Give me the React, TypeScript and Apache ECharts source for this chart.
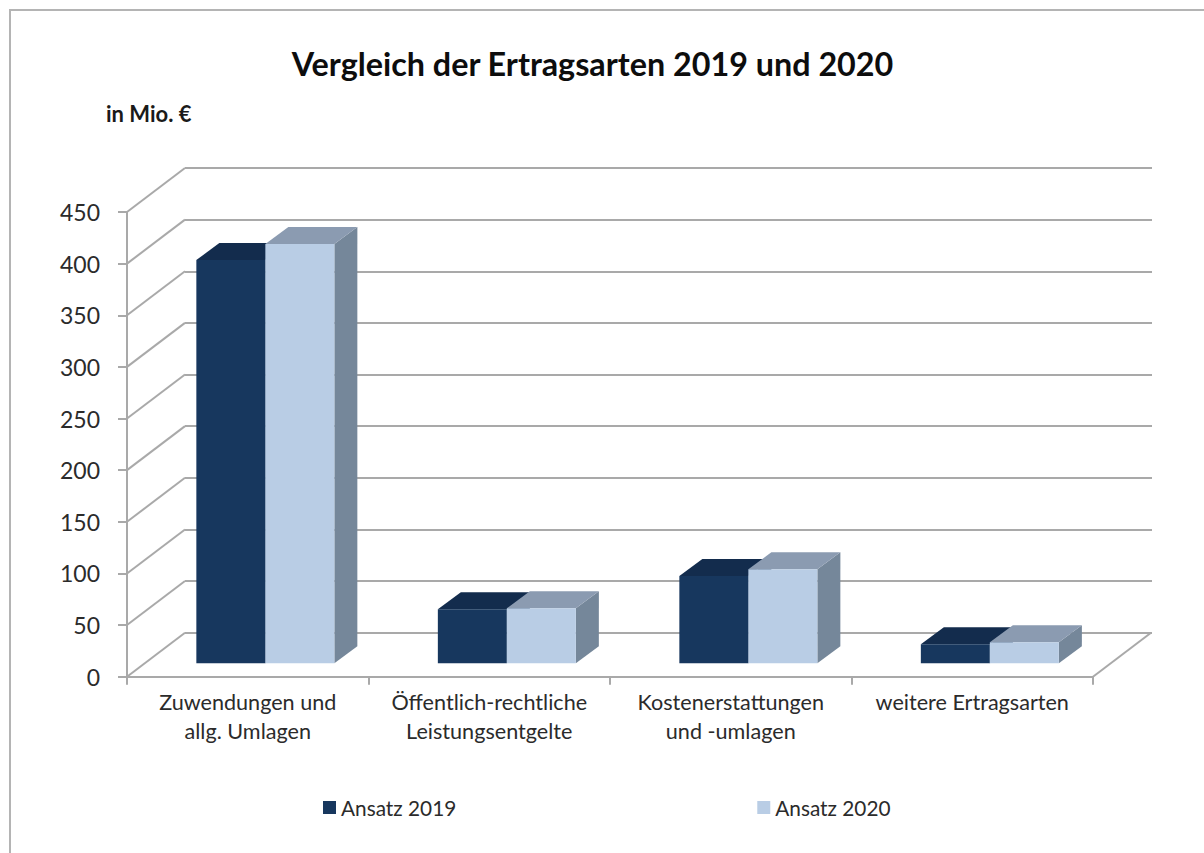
import React, { useEffect, useRef } from "react";
import * as echarts from "echarts";

const categories = [
  "Zuwendungen und\nallg. Umlagen",
  "Öffentlich-rechtliche\nLeistungsentgelte",
  "Kostenerstattungen\nund -umlagen",
  "weitere Ertragsarten",
];
const ansatz2019 = [390.5, 52.3, 84.5, 18.4];
const ansatz2020 = [406, 53.3, 91, 20.3];
const yTicks = [0, 50, 100, 150, 200, 250, 300, 350, 400, 450];

const FONT = "Lato, 'Open Sans', sans-serif";
const DEPTH_X = 58;
const DEPTH_Y = 44;
const FLOOR_X = 17.6;
const FLOOR_Y = 13.4;
const BAR_DX = 23;
const BAR_DY = 17;
const BAR_RATIO = 69 / 241.5;
const GRID_LINE = "#a9a9a9";

function barSeries(name: string, values: number[], side: number, front: string, top: string, right: string) {
  return {
    name,
    type: "custom",
    xAxisIndex: 0,
    yAxisIndex: 0,
    z: 5,
    itemStyle: { color: front },
    encode: { x: 0, y: 1 },
    data: values.map((v, i) => [i, v]),
    renderItem: (_: any, api: any) => {
      const idx = api.value(0);
      const val = api.value(1);
      const w = api.size([1, 0])[0] * BAR_RATIO;
      const t = api.coord([idx, val]);
      const b = api.coord([idx, 0]);
      const x0 = t[0] + FLOOR_X + (side < 0 ? -w : 0);
      const x1 = x0 + w;
      const yT = t[1] - FLOOR_Y;
      const yB = b[1] - FLOOR_Y;
      return {
        type: "group",
        children: [
          { type: "polygon", shape: { points: [[x1, yT], [x1 + BAR_DX, yT - BAR_DY], [x1 + BAR_DX, yB - BAR_DY], [x1, yB]] }, style: { fill: right } },
          { type: "polygon", shape: { points: [[x0, yT], [x0 + BAR_DX, yT - BAR_DY], [x1 + BAR_DX, yT - BAR_DY], [x1, yT]] }, style: { fill: top } },
          { type: "rect", shape: { x: x0, y: yT, width: w, height: yB - yT }, style: { fill: front } },
        ],
      };
    },
  };
}

export default function App() {
  const ref = useRef<HTMLDivElement>(null);
  useEffect(() => {
    document.body.style.margin = "0";
    const chart = echarts.init(ref.current!, null, { renderer: "svg" });
    chart.setOption({
      animation: false,
      backgroundColor: "#ffffff",
      title: {
        text: "Vergleich der Ertragsarten 2019 und 2020",
        left: 587.5,
        top: 42,
        textAlign: "center",
        textStyle: { fontFamily: FONT, fontSize: 32.3, fontWeight: "bold", color: "#0d0d0d" },
      },
      legend: {
        left: 318,
        top: 792,
        itemWidth: 13,
        itemHeight: 13,
        itemGap: 301,
        icon: "rect",
        data: ["Ansatz 2019", "Ansatz 2020"],
        textStyle: { fontFamily: FONT, fontSize: 20.8, color: "#2b2b2b" },
      },
      grid: [
        { left: 127, top: 212, width: 966, height: 464.7 },
        { left: 185, top: 168, width: 967, height: 464.7 },
      ],
      xAxis: [
        {
          type: "category",
          gridIndex: 0,
          data: categories,
          axisLine: { lineStyle: { color: GRID_LINE, width: 2 } },
          axisTick: { show: true, length: 8, lineStyle: { color: GRID_LINE, width: 2 } },
          axisLabel: { fontFamily: FONT, fontSize: 21.6, color: "#2b2b2b", lineHeight: 29, margin: 11, interval: 0 },
        },
        { type: "category", gridIndex: 1, data: categories, show: false },
      ],
      yAxis: [
        {
          type: "value",
          gridIndex: 0,
          min: 0,
          max: 450,
          interval: 50,
          splitLine: { show: false },
          axisLine: { show: true, lineStyle: { color: GRID_LINE, width: 2 } },
          axisTick: { show: true, length: 9, lineStyle: { color: GRID_LINE, width: 2 } },
          axisLabel: { fontFamily: FONT, fontSize: 23, color: "#2b2b2b", margin: 27 },
        },
        {
          type: "value",
          gridIndex: 1,
          min: 0,
          max: 450,
          interval: 50,
          axisLine: { show: false },
          axisTick: { show: false },
          axisLabel: { show: false },
          splitLine: { show: true, lineStyle: { color: GRID_LINE, width: 2 } },
        },
      ],
      graphic: [
        {
          type: "polyline",
          silent: true,
          shape: { points: [[10, 853], [10, 10], [1204, 10]] },
          style: { stroke: "#b4b4b4", lineWidth: 2, fill: "none" },
        },
        {
          type: "text",
          x: 106,
          y: 102,
          style: { text: "in Mio. €", fontFamily: FONT, fontSize: 22, fontWeight: "bold", fill: "#1a1a1a" },
        },
      ],
      series: [
        {
          type: "custom",
          xAxisIndex: 0,
          yAxisIndex: 0,
          z: 1,
          silent: true,
          encode: { x: 0, y: 1 },
          data: yTicks.map((v) => [0, v]),
          renderItem: (_: any, api: any) => {
            const p = api.coord([0, api.value(1)]);
            const x = p[0] - api.size([1, 0])[0] / 2;
            return {
              type: "line",
              shape: { x1: x, y1: p[1], x2: x + DEPTH_X, y2: p[1] - DEPTH_Y },
              style: { stroke: GRID_LINE, lineWidth: 2 },
            };
          },
        },
        {
          type: "custom",
          xAxisIndex: 0,
          yAxisIndex: 0,
          z: 1,
          silent: true,
          encode: { x: 0, y: 1 },
          data: [[categories.length - 1, 0]],
          renderItem: (_: any, api: any) => {
            const p = api.coord([api.value(0), 0]);
            const x = p[0] + api.size([1, 0])[0] / 2;
            return {
              type: "line",
              shape: { x1: x, y1: p[1], x2: x + DEPTH_X, y2: p[1] - DEPTH_Y },
              style: { stroke: GRID_LINE, lineWidth: 2 },
            };
          },
        },
        barSeries("Ansatz 2019", ansatz2019, -1, "#17375e", "#132c4d", "#132c4d"),
        barSeries("Ansatz 2020", ansatz2020, 1, "#b9cde5", "#8b9bb1", "#75879a"),
      ],
    });
    return () => chart.dispose();
  }, []);
  return <div ref={ref} style={{ width: 1204, height: 853 }} />;
}
